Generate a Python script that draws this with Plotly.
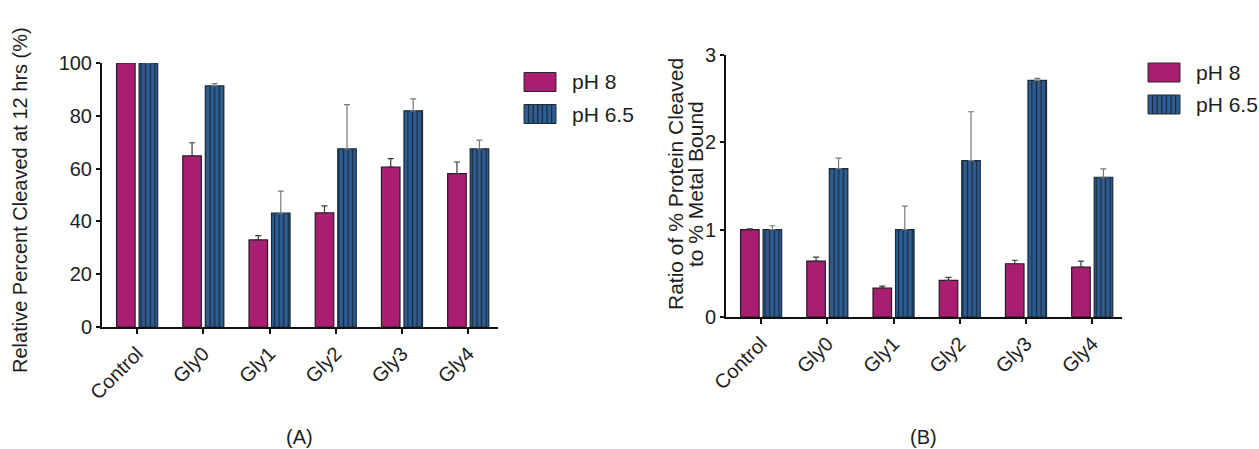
import plotly.graph_objects as go

# ---- data -------------------------------------------------------------
categories = ["Control", "Gly0", "Gly1", "Gly2", "Gly3", "Gly4"]
series_names = ["pH 8", "pH 6.5"]

# (A) relative percent cleaved at 12 hrs
a_ph8 = [100, 64.8, 33.0, 43.2, 60.6, 58.1]
a_ph8_err = [0, 5.0, 1.6, 2.7, 3.2, 4.4]
a_ph65 = [100, 91.3, 43.1, 67.5, 81.9, 67.5]
a_ph65_err = [0, 0.9, 8.4, 16.7, 4.5, 3.3]

# (B) ratio of % protein cleaved to % metal bound
b_ph8 = [1.0, 0.64, 0.33, 0.42, 0.61, 0.57]
b_ph8_err = [0.01, 0.045, 0.023, 0.034, 0.04, 0.07]
b_ph65 = [1.0, 1.70, 1.0, 1.79, 2.71, 1.60]
b_ph65_err = [0.045, 0.12, 0.27, 0.56, 0.023, 0.095]

a_ticks = [0, 20, 40, 60, 80, 100]
b_ticks = [0, 1, 2, 3]

# ---- style ------------------------------------------------------------
W, H = 1259, 449
FONT = "Liberation Sans, Arial, sans-serif"
TXT = "#1e1e1e"
PINK = "#AA1E72"
BLUE = "#2E5F94"
STRIPE = "#1B2B40"
FS = 20


def px(x):
    return x / W


def py(y):
    return (H - y) / H


def bar_pair(vals8, err8, vals65, err65, xa, ya):
    zeros = [0] * len(categories)
    pink = go.Bar(
        x=categories, y=vals8, name=series_names[0], xaxis=xa, yaxis=ya,
        width=0.28, offset=-0.31, showlegend=False,
        marker=dict(color=PINK, line=dict(color="#2a1a22", width=1.2)),
        error_y=dict(type="data", array=err8, arrayminus=zeros,
                     symmetric=False, visible=True,
                     color="#3a3a3a", thickness=1.2, width=3),
    )
    blue = go.Bar(
        x=categories, y=vals65, name=series_names[1], xaxis=xa, yaxis=ya,
        width=0.28, offset=0.03, showlegend=False,
        marker=dict(color=BLUE, line=dict(color="#1c2a3a", width=1.2),
                    pattern=dict(shape="|", fgcolor=STRIPE, bgcolor=BLUE,
                                 size=4.6, solidity=0.3, fillmode="replace")),
        error_y=dict(type="data", array=err65, arrayminus=zeros,
                     symmetric=False, visible=True,
                     color="#7a7a7a", thickness=1.2, width=3),
    )
    return [pink, blue]


fig = go.Figure()
for t in bar_pair(a_ph8, a_ph8_err, a_ph65, a_ph65_err, "x", "y"):
    fig.add_trace(t)
for t in bar_pair(b_ph8, b_ph8_err, b_ph65, b_ph65_err, "x2", "y2"):
    fig.add_trace(t)

axis_common = dict(
    showgrid=False, zeroline=False, showline=True, linecolor="#111",
    linewidth=2, ticks="outside", tickwidth=2, tickcolor="#111",
    tickfont=dict(family=FONT, size=FS, color=TXT), automargin=False,
)

fig.update_layout(
    width=W, height=H, margin=dict(l=0, r=0, t=0, b=0),
    paper_bgcolor="white", plot_bgcolor="white", barmode="overlay",
    font=dict(family=FONT, size=FS, color=TXT),
    xaxis=dict(domain=[px(102), px(498)], anchor="y", range=[-0.53, 5.45],
               tickangle=-45, type="category", ticklen=5, **axis_common),
    yaxis=dict(domain=[py(327), py(63)], anchor="x", range=[0, 100],
               tickvals=a_ticks, ticklen=4, **axis_common),
    xaxis2=dict(domain=[px(726), px(1122)], anchor="y2", range=[-0.53, 5.45],
                tickangle=-45, type="category", ticklen=5, **axis_common),
    yaxis2=dict(domain=[py(317), py(55)], anchor="x2", range=[0, 3],
                tickvals=b_ticks, ticklen=4, **axis_common),
    showlegend=False,
)

# axis titles and panel labels
ann = [
    dict(text="Relative Percent Cleaved at 12 hrs (%)", x=px(20), y=py(200),
         textangle=-90, size=FS),
    dict(text="Ratio of % Protein Cleaved", x=px(675), y=py(184),
         textangle=-90, size=21),
    dict(text="to % Metal Bound", x=px(695), y=py(184),
         textangle=-90, size=21),
    dict(text="(A)", x=px(299), y=py(437), textangle=0, size=FS),
    dict(text="(B)", x=px(923), y=py(437), textangle=0, size=FS),
]
for a in ann:
    fig.add_annotation(xref="paper", yref="paper", showarrow=False,
                       xanchor="center", yanchor="middle",
                       text=a["text"], x=a["x"], y=a["y"],
                       textangle=a["textangle"],
                       font=dict(family=FONT, size=a["size"], color=TXT))

# legends for each panel
def add_legend(x0, y_rows):
    sw_w, sw_h = 32, 19
    for name, yc, is_blue in zip(series_names, y_rows, [False, True]):
        fill = BLUE if is_blue else PINK
        fig.add_shape(type="rect", xref="paper", yref="paper",
                      x0=px(x0), x1=px(x0 + sw_w),
                      y0=py(yc + sw_h / 2), y1=py(yc - sw_h / 2),
                      fillcolor=fill, line=dict(color="#2a2a2a", width=1))
        if is_blue:
            k = 1
            while 4.6 * k < sw_w - 1:
                xs = x0 + 4.6 * k
                fig.add_shape(type="line", xref="paper", yref="paper",
                              x0=px(xs), x1=px(xs),
                              y0=py(yc + sw_h / 2), y1=py(yc - sw_h / 2),
                              line=dict(color=STRIPE, width=1.3))
                k += 1
        fig.add_annotation(text=name, xref="paper", yref="paper",
                           x=px(x0 + sw_w + 14), y=py(yc), showarrow=False,
                           xanchor="left", yanchor="middle",
                           font=dict(family=FONT, size=21, color=TXT))


add_legend(524, [82, 114])
add_legend(1148, [72.5, 104.5])

fig.write_html("out.html")
